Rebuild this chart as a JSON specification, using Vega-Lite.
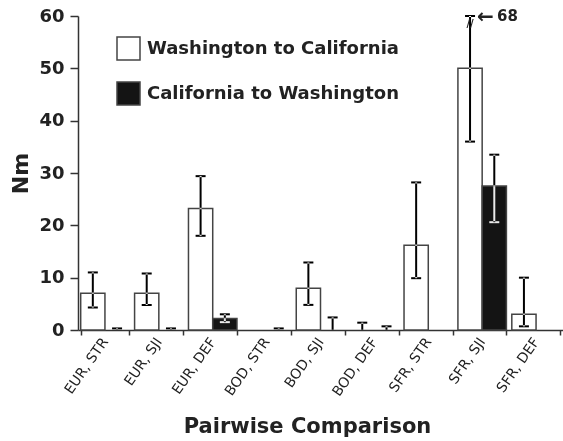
{
  "$schema": "https://vega.github.io/schema/vega-lite/v6.json",
  "autosize": "none",
  "width": 485,
  "height": 314,
  "padding": {"left": 78, "top": 16, "right": 0, "bottom": 111},
  "background": "white",
  "config": {
    "view": {"stroke": null},
    "font": "DejaVu Sans",
    "axis": {"domainColor": "#333", "domainWidth": 1.5, "tickColor": "#333", "tickWidth": 1.5, "grid": false, "labelColor": "#222", "titleColor": "#222"}
  },
  "datasets": {
    "nm": [
      {"pair": "EUR, STR", "dir": "Washington to California", "nm": 7.0, "lo": 4.3, "hi": 11.0},
      {"pair": "EUR, STR", "dir": "California to Washington", "nm": null, "lo": 0, "hi": 0.3},
      {"pair": "EUR, SJI", "dir": "Washington to California", "nm": 7.0, "lo": 4.8, "hi": 10.8},
      {"pair": "EUR, SJI", "dir": "California to Washington", "nm": null, "lo": 0, "hi": 0.3},
      {"pair": "EUR, DEF", "dir": "Washington to California", "nm": 23.2, "lo": 18.0, "hi": 29.4},
      {"pair": "EUR, DEF", "dir": "California to Washington", "nm": 2.2, "lo": 1.5, "hi": 3.0},
      {"pair": "BOD, STR", "dir": "Washington to California", "nm": null, "lo": null, "hi": null},
      {"pair": "BOD, STR", "dir": "California to Washington", "nm": null, "lo": 0, "hi": 0.3},
      {"pair": "BOD, SJI", "dir": "Washington to California", "nm": 8.0, "lo": 4.8, "hi": 12.9},
      {"pair": "BOD, SJI", "dir": "California to Washington", "nm": null, "lo": 0, "hi": 2.4},
      {"pair": "BOD, DEF", "dir": "Washington to California", "nm": null, "lo": 0, "hi": 1.4},
      {"pair": "BOD, DEF", "dir": "California to Washington", "nm": null, "lo": 0, "hi": 0.7},
      {"pair": "SFR, STR", "dir": "Washington to California", "nm": 16.2, "lo": 9.9, "hi": 28.2},
      {"pair": "SFR, STR", "dir": "California to Washington", "nm": null, "lo": null, "hi": null},
      {"pair": "SFR, SJI", "dir": "Washington to California", "nm": 50.0, "lo": 36.0, "hi": 68},
      {"pair": "SFR, SJI", "dir": "California to Washington", "nm": 27.5, "lo": 20.6, "hi": 33.5},
      {"pair": "SFR, DEF", "dir": "Washington to California", "nm": 3.0, "lo": 0.7, "hi": 10.0},
      {"pair": "SFR, DEF", "dir": "California to Washington", "nm": null, "lo": null, "hi": null}
    ],
    "note": [
      {"pair": "SFR, SJI", "dir": "Washington to California", "y": 60, "label": "68", "brk": 58.4}
    ]
  },
  "encoding": {
    "x": {
      "field": "pair", "type": "nominal",
      "sort": ["EUR, STR", "EUR, SJI", "EUR, DEF", "BOD, STR", "BOD, SJI", "BOD, DEF", "SFR, STR", "SFR, SJI", "SFR, DEF"],
      "scale": {"paddingInner": 0.1, "paddingOuter": 0.05},
      "axis": {
        "title": "Pairwise Comparison", "titleFont": "DejaVu Sans", "titleFontWeight": "bold", "titleFontSize": 21,
        "titlePadding": 17, "titleX": 229, "titleAnchor": null,
        "labelAngle": -55, "labelFontSize": 14, "labelFont": "DejaVu Sans", "labelPadding": 4,
        "tickBand": "extent", "tickSize": 5
      }
    },
    "xOffset": {"field": "dir", "type": "nominal", "sort": ["Washington to California", "California to Washington"]}
  },
  "layer": [
    {
      "data": {"name": "nm"},
      "transform": [{"filter": "datum.nm != null"}],
      "mark": {"type": "bar", "stroke": "#444", "strokeWidth": 1.5},
      "encoding": {
        "y": {
          "field": "nm", "type": "quantitative",
          "scale": {"domain": [0, 60], "nice": false, "clamp": true},
          "axis": {
            "values": [0, 5, 10, 15, 20, 25, 30, 35, 40, 45, 50, 55, 60],
            "labelExpr": "datum.value % 10 === 0 ? datum.label : ''",
            "tickSize": {"condition": {"test": "datum.value % 10 !== 0", "value": 4}, "value": 8},
            "labelFont": "DejaVu Sans", "labelFontWeight": "bold", "labelFontSize": 18, "labelPadding": 6,
            "title": "Nm", "titleFont": "DejaVu Sans", "titleFontWeight": "bold", "titleFontSize": 22, "titlePadding": 6
          }
        },
        "fill": {
          "field": "dir", "type": "nominal",
          "sort": ["Washington to California", "California to Washington"],
          "scale": {"domain": ["Washington to California", "California to Washington"], "range": ["white", "#141414"]},
          "legend": {
            "orient": "none", "legendX": 38, "legendY": 20, "title": null, "padding": 0,
            "symbolType": "square", "symbolSize": 529, "symbolStrokeColor": "#444", "symbolStrokeWidth": 1.5,
            "labelFont": "DejaVu Sans", "labelFontWeight": "bold", "labelFontSize": 18, "labelColor": "#222",
            "labelOffset": 6, "rowPadding": 16, "labelLimit": 0
          }
        }
      }
    },
    {
      "data": {"name": "nm"},
      "transform": [{"filter": "datum.hi != null"}],
      "mark": {"type": "rule", "color": "white", "strokeWidth": 2, "blend": "difference"},
      "encoding": {
        "y": {"field": "lo", "type": "quantitative"},
        "y2": {"field": "hi"}
      }
    },
    {
      "data": {"name": "nm"},
      "transform": [{"filter": "datum.hi != null"}],
      "mark": {"type": "tick", "color": "white", "opacity": 1, "thickness": 2, "size": 10, "blend": "difference"},
      "encoding": {
        "y": {"field": "hi", "type": "quantitative"}
      }
    },
    {
      "data": {"name": "nm"},
      "transform": [{"filter": "datum.lo != null && datum.lo > 0"}],
      "mark": {"type": "tick", "color": "white", "opacity": 1, "thickness": 2, "size": 10, "blend": "difference"},
      "encoding": {
        "y": {"field": "lo", "type": "quantitative"}
      }
    },
    {
      "data": {"name": "note"},
      "mark": {"type": "text", "align": "left", "baseline": "middle", "dx": 7, "dy": 1, "font": "DejaVu Sans", "fontWeight": "bold", "fontSize": 20, "color": "#222", "text": "←"},
      "encoding": {
        "y": {"field": "y", "type": "quantitative"}
      }
    },
    {
      "data": {"name": "note"},
      "mark": {"type": "text", "align": "left", "baseline": "middle", "dx": 27, "font": "DejaVu Sans", "fontWeight": "bold", "fontSize": 15, "color": "#222"},
      "encoding": {
        "y": {"field": "y", "type": "quantitative"},
        "text": {"field": "label"}
      }
    },
    {
      "data": {"name": "note"},
      "mark": {"type": "text", "align": "center", "baseline": "middle", "font": "DejaVu Sans", "fontSize": 10, "fontWeight": "bold", "color": "#222", "text": "//"},
      "encoding": {
        "y": {"field": "brk", "type": "quantitative"}
      }
    }
  ]
}
